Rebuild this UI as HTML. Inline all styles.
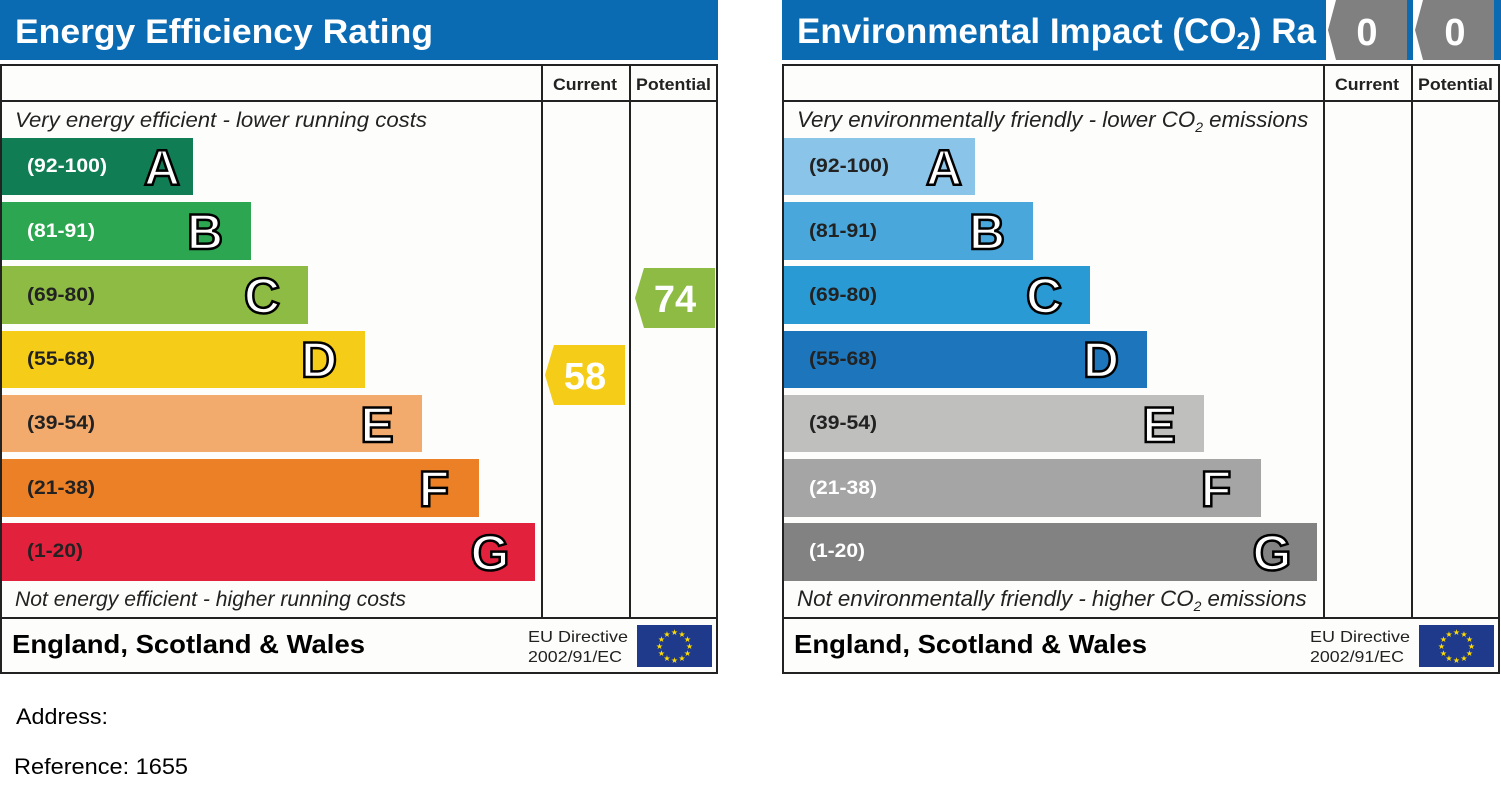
<!DOCTYPE html>
<html><head><style>body{margin:0;background:#fff}svg{display:block}</style></head><body>
<svg width="1501" height="805" xmlns="http://www.w3.org/2000/svg" font-family="Liberation Sans, Arial, sans-serif">
<rect width="1501" height="805" fill="#fff"/>
<defs>
<g id="eu">
<rect x="0" y="0" width="75" height="42" fill="#1f3a8a"/>
<g fill="#ffdd00" font-size="8" text-anchor="middle">
<text x="37.5" y="10">★</text><text x="45" y="12">★</text><text x="50.5" y="17">★</text><text x="52.5" y="24">★</text><text x="50.5" y="31">★</text><text x="45" y="36">★</text><text x="37.5" y="38">★</text><text x="30" y="36">★</text><text x="24.5" y="31">★</text><text x="22.5" y="24">★</text><text x="24.5" y="17">★</text><text x="30" y="12">★</text>
</g></g>
</defs>
<!-- LEFT PANEL -->
<rect x="0" y="0" width="718" height="60" fill="#0a6bb3"/>
<text x="15" y="43" font-size="34" font-weight="bold" fill="#fff" textLength="418" lengthAdjust="spacingAndGlyphs">Energy Efficiency Rating</text>
<rect x="1" y="65" width="716" height="608" fill="#fdfdfb" stroke="#222" stroke-width="2"/>
<line x1="1" y1="101" x2="717" y2="101" stroke="#222" stroke-width="2"/>
<line x1="542" y1="65" x2="542" y2="618" stroke="#222" stroke-width="2"/>
<line x1="630" y1="65" x2="630" y2="618" stroke="#222" stroke-width="2"/>
<line x1="1" y1="618" x2="717" y2="618" stroke="#222" stroke-width="2"/>
<text x="553" y="90" font-size="17" font-weight="bold" fill="#222" textLength="64" lengthAdjust="spacingAndGlyphs">Current</text>
<text x="636" y="90" font-size="17" font-weight="bold" fill="#222" textLength="75" lengthAdjust="spacingAndGlyphs">Potential</text>
<text x="15" y="127" font-size="21" font-style="italic" fill="#222" textLength="412" lengthAdjust="spacingAndGlyphs">Very energy efficient - lower running costs</text>
<text x="15" y="606" font-size="21" font-style="italic" fill="#222" textLength="391" lengthAdjust="spacingAndGlyphs">Not energy efficient - higher running costs</text>
<g font-weight="bold">
<rect x="2" y="138" width="191" height="57" fill="#117d55"/><text x="27" y="172" font-size="19" fill="#fff" textLength="80" lengthAdjust="spacingAndGlyphs">(92-100)</text><text x="162" y="185" font-size="50" fill="#fff" stroke="#000" stroke-width="2.5" text-anchor="middle">A</text>
<rect x="2" y="202" width="249" height="58" fill="#2ca650"/><text x="27" y="237" font-size="19" fill="#fff" textLength="68" lengthAdjust="spacingAndGlyphs">(81-91)</text><text x="205" y="249" font-size="50" fill="#fff" stroke="#000" stroke-width="2.5" text-anchor="middle">B</text>
<rect x="2" y="266" width="306" height="58" fill="#8dbb43"/><text x="27" y="301" font-size="19" fill="#222" textLength="68" lengthAdjust="spacingAndGlyphs">(69-80)</text><text x="262" y="313" font-size="50" fill="#fff" stroke="#000" stroke-width="2.5" text-anchor="middle">C</text>
<rect x="2" y="331" width="363" height="57" fill="#f5cc17"/><text x="27" y="365" font-size="19" fill="#222" textLength="68" lengthAdjust="spacingAndGlyphs">(55-68)</text><text x="319" y="377" font-size="50" fill="#fff" stroke="#000" stroke-width="2.5" text-anchor="middle">D</text>
<rect x="2" y="395" width="420" height="57" fill="#f2aa6d"/><text x="27" y="429" font-size="19" fill="#222" textLength="68" lengthAdjust="spacingAndGlyphs">(39-54)</text><text x="377" y="442" font-size="50" fill="#fff" stroke="#000" stroke-width="2.5" text-anchor="middle">E</text>
<rect x="2" y="459" width="477" height="58" fill="#ec8026"/><text x="27" y="494" font-size="19" fill="#222" textLength="68" lengthAdjust="spacingAndGlyphs">(21-38)</text><text x="434" y="506" font-size="50" fill="#fff" stroke="#000" stroke-width="2.5" text-anchor="middle">F</text>
<rect x="2" y="523" width="533" height="58" fill="#e2223d"/><text x="27" y="557" font-size="19" fill="#222" textLength="56" lengthAdjust="spacingAndGlyphs">(1-20)</text><text x="490" y="570" font-size="50" fill="#fff" stroke="#000" stroke-width="2.5" text-anchor="middle">G</text>
</g>
<polygon points="554,345 625,345 625,405 554,405 545,375" fill="#f5cc17"/>
<text x="585" y="389" font-size="38" font-weight="bold" fill="#fff" text-anchor="middle">58</text>
<polygon points="644,268 715,268 715,328 644,328 635,298" fill="#8dbb43"/>
<text x="675" y="312" font-size="38" font-weight="bold" fill="#fff" text-anchor="middle">74</text>
<text x="12" y="653" font-size="26" font-weight="bold" fill="#000" textLength="353" lengthAdjust="spacingAndGlyphs">England, Scotland &amp; Wales</text>
<text x="528" y="642" font-size="16" fill="#222" textLength="100" lengthAdjust="spacingAndGlyphs">EU Directive</text>
<text x="528" y="662" font-size="16" fill="#222" textLength="94" lengthAdjust="spacingAndGlyphs">2002/91/EC</text>
<use href="#eu" x="637" y="625"/>
<!-- RIGHT PANEL -->
<rect x="782" y="0" width="719" height="60" fill="#0a6bb3"/>
<text x="797" y="43" font-size="35" font-weight="bold" fill="#fff">Environmental Impact (CO<tspan font-size="24" dy="6">2</tspan><tspan dy="-6">) Ra</tspan></text>
<rect x="1326" y="0" width="81" height="60" fill="#fff"/>
<polygon points="1336,0 1407,0 1407,60 1336,60 1328,30" fill="#808080"/>
<text x="1367" y="45" font-size="38" font-weight="bold" fill="#fff" text-anchor="middle">0</text>
<rect x="1413" y="0" width="81" height="60" fill="#fff"/>
<polygon points="1423,0 1494,0 1494,60 1423,60 1415,30" fill="#808080"/>
<text x="1455" y="45" font-size="38" font-weight="bold" fill="#fff" text-anchor="middle">0</text>
<rect x="783" y="65" width="716" height="608" fill="#fdfdfb" stroke="#222" stroke-width="2"/>
<line x1="783" y1="101" x2="1499" y2="101" stroke="#222" stroke-width="2"/>
<line x1="1324" y1="65" x2="1324" y2="618" stroke="#222" stroke-width="2"/>
<line x1="1412" y1="65" x2="1412" y2="618" stroke="#222" stroke-width="2"/>
<line x1="783" y1="618" x2="1499" y2="618" stroke="#222" stroke-width="2"/>
<text x="1335" y="90" font-size="17" font-weight="bold" fill="#222" textLength="64" lengthAdjust="spacingAndGlyphs">Current</text>
<text x="1418" y="90" font-size="17" font-weight="bold" fill="#222" textLength="75" lengthAdjust="spacingAndGlyphs">Potential</text>
<text x="797" y="127" font-size="22.3" font-style="italic" fill="#222">Very environmentally friendly - lower CO<tspan font-size="14" dy="5">2</tspan><tspan dy="-5"> emissions</tspan></text>
<text x="797" y="606" font-size="22.3" font-style="italic" fill="#222">Not environmentally friendly - higher CO<tspan font-size="14" dy="5">2</tspan><tspan dy="-5"> emissions</tspan></text>
<g font-weight="bold">
<rect x="784" y="138" width="191" height="57" fill="#8ac4e9"/><text x="809" y="172" font-size="19" fill="#222" textLength="80" lengthAdjust="spacingAndGlyphs">(92-100)</text><text x="944" y="185" font-size="50" fill="#fff" stroke="#000" stroke-width="2.5" text-anchor="middle">A</text>
<rect x="784" y="202" width="249" height="58" fill="#4aa7dc"/><text x="809" y="237" font-size="19" fill="#222" textLength="68" lengthAdjust="spacingAndGlyphs">(81-91)</text><text x="987" y="249" font-size="50" fill="#fff" stroke="#000" stroke-width="2.5" text-anchor="middle">B</text>
<rect x="784" y="266" width="306" height="58" fill="#2a9ad4"/><text x="809" y="301" font-size="19" fill="#222" textLength="68" lengthAdjust="spacingAndGlyphs">(69-80)</text><text x="1044" y="313" font-size="50" fill="#fff" stroke="#000" stroke-width="2.5" text-anchor="middle">C</text>
<rect x="784" y="331" width="363" height="57" fill="#1d76bb"/><text x="809" y="365" font-size="19" fill="#222" textLength="68" lengthAdjust="spacingAndGlyphs">(55-68)</text><text x="1101" y="377" font-size="50" fill="#fff" stroke="#000" stroke-width="2.5" text-anchor="middle">D</text>
<rect x="784" y="395" width="420" height="57" fill="#bfbfbd"/><text x="809" y="429" font-size="19" fill="#222" textLength="68" lengthAdjust="spacingAndGlyphs">(39-54)</text><text x="1159" y="442" font-size="50" fill="#fff" stroke="#000" stroke-width="2.5" text-anchor="middle">E</text>
<rect x="784" y="459" width="477" height="58" fill="#a5a5a5"/><text x="809" y="494" font-size="19" fill="#fff" textLength="68" lengthAdjust="spacingAndGlyphs">(21-38)</text><text x="1216" y="506" font-size="50" fill="#fff" stroke="#000" stroke-width="2.5" text-anchor="middle">F</text>
<rect x="784" y="523" width="533" height="58" fill="#828282"/><text x="809" y="557" font-size="19" fill="#fff" textLength="56" lengthAdjust="spacingAndGlyphs">(1-20)</text><text x="1272" y="570" font-size="50" fill="#fff" stroke="#000" stroke-width="2.5" text-anchor="middle">G</text>
</g>
<text x="794" y="653" font-size="26" font-weight="bold" fill="#000" textLength="353" lengthAdjust="spacingAndGlyphs">England, Scotland &amp; Wales</text>
<text x="1310" y="642" font-size="16" fill="#222" textLength="100" lengthAdjust="spacingAndGlyphs">EU Directive</text>
<text x="1310" y="662" font-size="16" fill="#222" textLength="94" lengthAdjust="spacingAndGlyphs">2002/91/EC</text>
<use href="#eu" x="1419" y="625"/>
<text x="16" y="724" font-size="22" fill="#000" textLength="92" lengthAdjust="spacingAndGlyphs">Address:</text>
<text x="14" y="774" font-size="22" fill="#000" textLength="174" lengthAdjust="spacingAndGlyphs">Reference: 1655</text>
</svg>
</body></html>
